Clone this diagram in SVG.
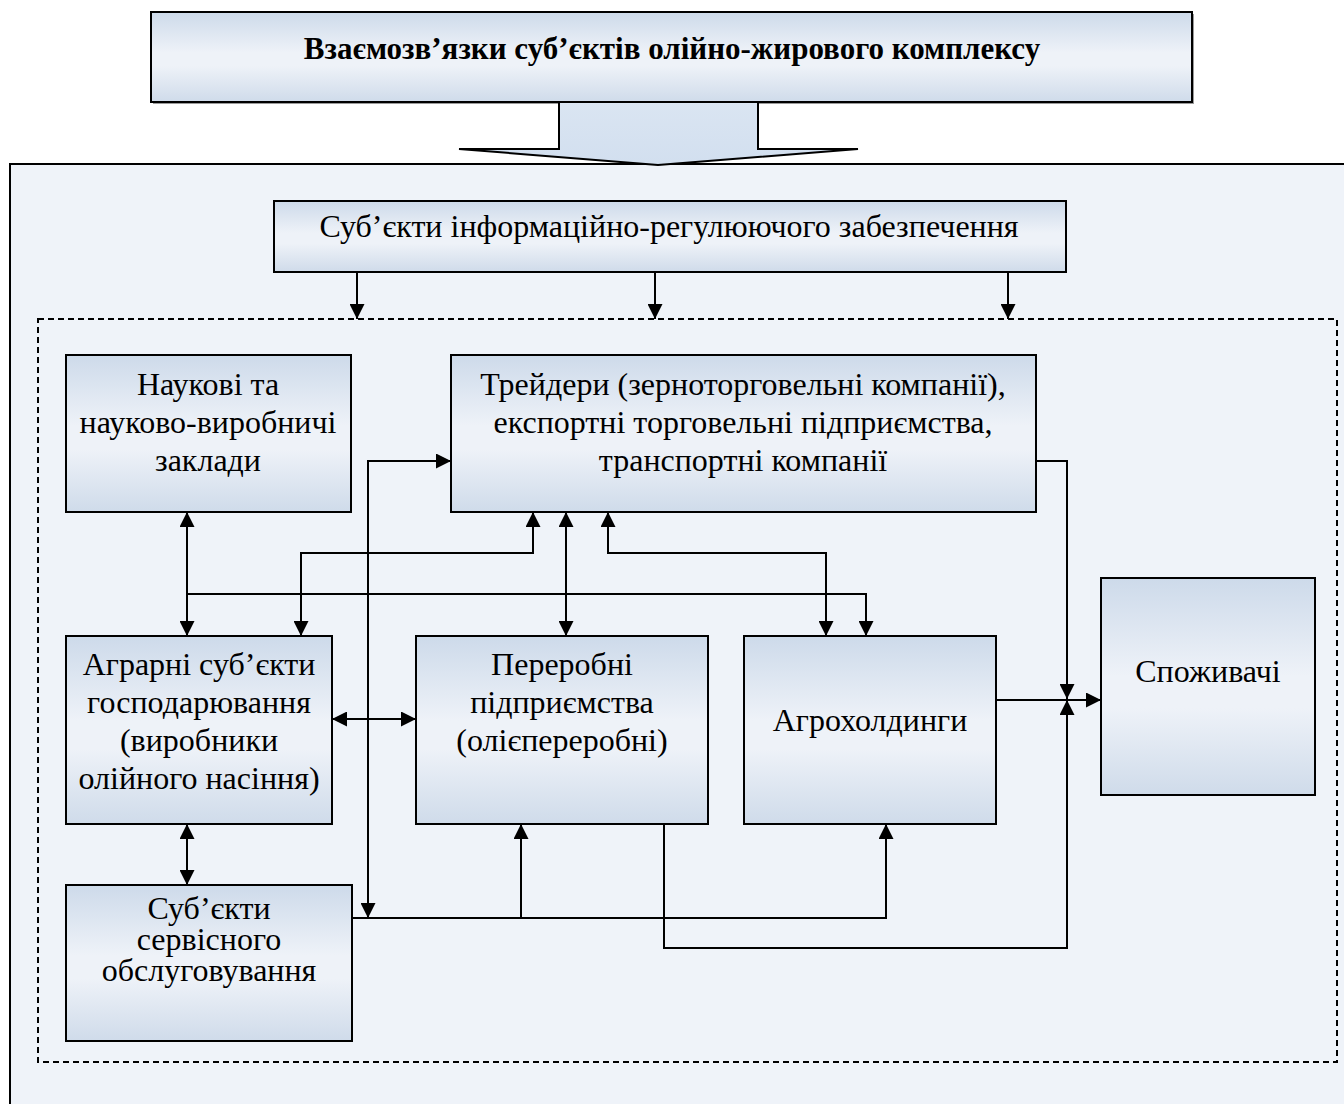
<svg xmlns="http://www.w3.org/2000/svg" width="1344" height="1104" viewBox="0 0 1344 1104">
  <defs>
    <linearGradient id="boxFill" x1="0" y1="0" x2="0" y2="1">
      <stop offset="0" stop-color="#cddaea"/>
      <stop offset="0.45" stop-color="#eef2f8"/>
      <stop offset="0.6" stop-color="#eef2f8"/>
      <stop offset="1" stop-color="#cfdbea"/>
    </linearGradient>
    <linearGradient id="arrowFill" x1="0" y1="0" x2="0" y2="1">
      <stop offset="0" stop-color="#dae5f2"/>
      <stop offset="1" stop-color="#d2dfef"/>
    </linearGradient>
    <marker id="arrow" viewBox="0 0 15 15" markerWidth="15" markerHeight="15" refX="15" refY="7.5" markerUnits="userSpaceOnUse" orient="auto-start-reverse">
      <path d="M0,0 L15,7.5 L0,15 z" fill="#000"/>
    </marker>
    <style>
      .box { fill: url(#boxFill); stroke: #000; stroke-width: 2; }
      .txt { font-family: "Liberation Serif", "Times New Roman", serif; font-size: 32px; fill: #000; text-anchor: middle; }
      .title { font-family: "Liberation Serif", "Times New Roman", serif; font-size: 31px; font-weight: bold; fill: #000; text-anchor: middle; }
      .line { fill: none; stroke: #000; stroke-width: 2; }
      .both { marker-start: url(#arrow); marker-end: url(#arrow); }
      .end { marker-end: url(#arrow); }
    </style>
  </defs>

  <rect width="1344" height="1104" fill="#ffffff"/>

  <!-- outer panel -->
  <rect id="panel" x="10" y="164" width="1350" height="960" fill="#eff3f9" stroke="#000" stroke-width="2"/>

  <!-- heading box -->
  <g id="heading">
    <rect x="153" y="14" width="1041" height="90" fill="#9a9a9a"/>
    <rect x="151" y="12" width="1041" height="90" class="box"/>
    <text x="672" y="59" class="title">Взаємозв’язки суб’єктів олійно-жирового комплексу</text>
  </g>

  <!-- block arrow from heading into panel -->
  <g id="heading-arrow">
    <polygon points="559,102 758,102 758,149 858,149 658,165 459,149 559,149" fill="url(#arrowFill)" stroke="#000" stroke-width="2" stroke-linejoin="miter"/>
  </g>

  <!-- dashed frame around the complex -->
  <rect id="frame" x="38" y="319" width="1299" height="743" fill="none" stroke="#000" stroke-width="2" stroke-dasharray="6,4"/>

  <g id="info">
    <rect x="274" y="201" width="792" height="71" class="box"/>
    <text x="669" y="237" class="txt">Суб’єкти інформаційно-регулюючого забезпечення</text>
  </g>

  <g id="science">
    <rect x="66" y="355" width="285" height="157" class="box"/>
    <text class="txt"><tspan x="208" y="395">Наукові та</tspan><tspan x="208" y="433">науково-виробничі</tspan><tspan x="208" y="471">заклади</tspan></text>
  </g>

  <g id="traders">
    <rect x="451" y="355" width="585" height="157" class="box"/>
    <text class="txt"><tspan x="743" y="395">Трейдери (зерноторговельні компанії),</tspan><tspan x="743" y="433">експортні торговельні підприємства,</tspan><tspan x="743" y="471">транспортні компанії</tspan></text>
  </g>

  <g id="agrarian">
    <rect x="66" y="636" width="266" height="188" class="box"/>
    <text class="txt"><tspan x="199" y="675">Аграрні суб’єкти</tspan><tspan x="199" y="713">господарювання</tspan><tspan x="199" y="751">(виробники</tspan><tspan x="199" y="789">олійного насіння)</tspan></text>
  </g>

  <g id="processors">
    <rect x="416" y="636" width="292" height="188" class="box"/>
    <text class="txt"><tspan x="562" y="675">Переробні</tspan><tspan x="562" y="713">підприємства</tspan><tspan x="562" y="751">(олієпереробні)</tspan></text>
  </g>

  <g id="agroholdings">
    <rect x="744" y="636" width="252" height="188" class="box"/>
    <text x="870" y="731" class="txt">Агрохолдинги</text>
  </g>

  <g id="consumers">
    <rect x="1101" y="578" width="214" height="217" class="box"/>
    <text x="1208" y="682" class="txt">Споживачі</text>
  </g>

  <g id="services">
    <rect x="66" y="885" width="286" height="156" class="box"/>
    <text class="txt"><tspan x="209" y="919">Суб’єкти</tspan><tspan x="209" y="950">сервісного</tspan><tspan x="209" y="981">обслуговування</tspan></text>
  </g>

  <g id="connectors">
    <!-- regulation arrows into the frame -->
    <path class="line end" d="M357,272 V319"/>
    <path class="line end" d="M655,272 V319"/>
    <path class="line end" d="M1008,272 V319"/>
    <!-- science links -->
    <path class="line both" d="M187,512 V636"/>
    <path class="line end" d="M187,594 H866 V636"/>
    <!-- traders links -->
    <path class="line both" d="M533,512 V553 H301 V636"/>
    <path class="line both" d="M566,512 V636"/>
    <path class="line both" d="M608,512 V553 H826 V636"/>
    <path class="line both" d="M451,461 H368 V918"/>
    <!-- service bus -->
    <path class="line end" d="M352,918 H886 V824"/>
    <path class="line end" d="M521,918 V824"/>
    <!-- flows to consumers -->
    <path class="line end" d="M1036,461 H1067 V699"/>
    <path class="line end" d="M664,824 V948 H1067 V700"/>
    <path class="line end" d="M996,700 H1101"/>
    <!-- producers links -->
    <path class="line both" d="M332,719 H416"/>
    <path class="line both" d="M187,824 V885"/>
  </g>
</svg>
